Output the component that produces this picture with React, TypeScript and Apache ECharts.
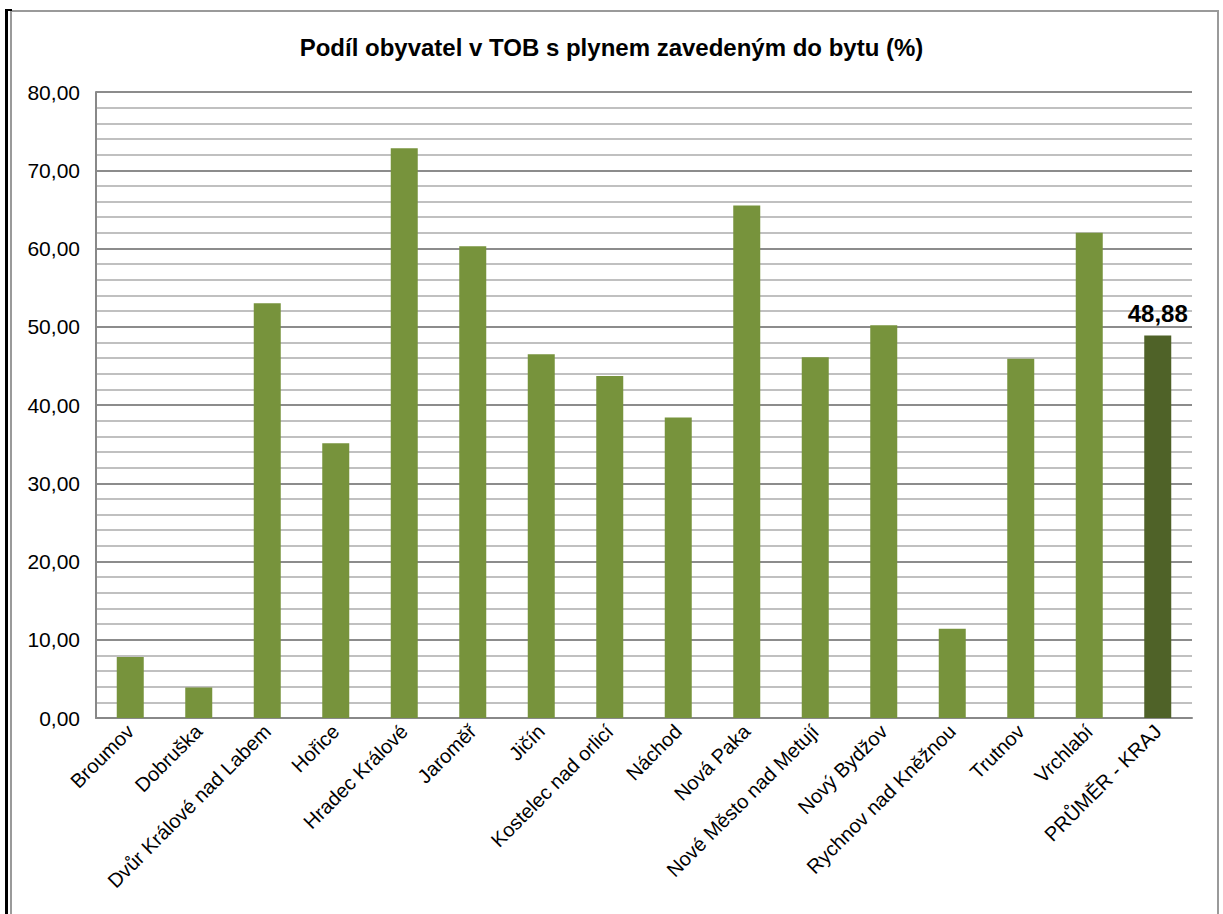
import React, { useEffect, useRef } from "react";
import * as echarts from "echarts";

const title = "Podíl obyvatel v TOB s plynem zavedeným do bytu (%)";
const categories = [
  "Broumov",
  "Dobruška",
  "Dvůr Králové nad Labem",
  "Hořice",
  "Hradec Králové",
  "Jaroměř",
  "Jičín",
  "Kostelec nad orlicí",
  "Náchod",
  "Nová Paka",
  "Nové Město nad Metují",
  "Nový Bydžov",
  "Rychnov nad Kněžnou",
  "Trutnov",
  "Vrchlabí",
  "PRŮMĚR - KRAJ",
];
const values = [7.8, 3.9, 53.0, 35.1, 72.8, 60.3, 46.5, 43.7, 38.4, 65.5, 46.1, 50.2, 11.4, 45.9, 62.0, 48.88];
const highlightIndex = 15;

const FONT = "'Liberation Sans', Arial, sans-serif";

export default function App() {
  const ref = useRef<HTMLDivElement>(null);
  useEffect(() => {
    if (!ref.current) return;
    const chart = echarts.init(ref.current, null, { renderer: "svg" });
    const fmt = (v: number) => v.toFixed(2).replace(".", ",");
    chart.setOption({
      animation: false,
      backgroundColor: "#ffffff",
      title: {
        text: title,
        left: "center",
        top: 30,
        textStyle: { fontFamily: FONT, fontSize: 24, fontWeight: "bold", color: "#000" },
      },
      grid: { left: 96, top: 92, right: 31, bottom: 196, containLabel: false },
      xAxis: {
        type: "category",
        data: categories,
        axisLine: { show: true, lineStyle: { color: "#888", width: 2 } },
        axisTick: { show: false },
        axisLabel: {
          rotate: 45,
          interval: 0,
          fontFamily: FONT,
          fontSize: 20,
          color: "#000",
          margin: 10,
        },
      },
      yAxis: {
        type: "value",
        min: 0,
        max: 80,
        interval: 10,
        axisLine: { show: true, lineStyle: { color: "#888", width: 2 } },
        axisTick: { show: false },
        axisLabel: {
          fontFamily: FONT,
          fontSize: 21,
          color: "#000",
          margin: 16,
          formatter: (v: number) => fmt(v),
        },
        splitLine: { show: true, lineStyle: { color: "#8c8c8c", width: 2 } },
        minorTick: { show: false, splitNumber: 5 },
        minorSplitLine: { show: true, lineStyle: { color: "#c0c0c0", width: 2 } },
      },
      series: [
        {
          type: "bar",
          data: values.map((v, i) =>
            i === highlightIndex
              ? {
                  value: v,
                  itemStyle: { color: "#4F6228" },
                  label: {
                    show: true,
                    position: "top",
                    distance: 10,
                    formatter: (p: any) => fmt(p.value),
                    fontFamily: FONT,
                    fontSize: 24,
                    fontWeight: "bold",
                    color: "#000",
                  },
                }
              : { value: v }
          ),
          barWidth: 27,
          itemStyle: { color: "#77933C" },
        },
      ],
      graphic: [
        {
          type: "rect",
          shape: { x: 11, y: 11, width: 1207, height: 920 },
          style: { fill: "none", stroke: "#9a9a9a", lineWidth: 2 },
          silent: true,
        },
        {
          type: "line",
          shape: { x1: 6.5, y1: 9, x2: 6.5, y2: 914 },
          style: { stroke: "#000", lineWidth: 3 },
          silent: true,
        },
        {
          type: "line",
          shape: { x1: 5, y1: 10, x2: 12, y2: 10 },
          style: { stroke: "#000", lineWidth: 2 },
          silent: true,
        },
      ],
    });
    return () => chart.dispose();
  }, []);
  return (
    <div
      ref={ref}
      style={{ position: "fixed", left: 0, top: 0, width: 1223, height: 914 }}
    />
  );
}
